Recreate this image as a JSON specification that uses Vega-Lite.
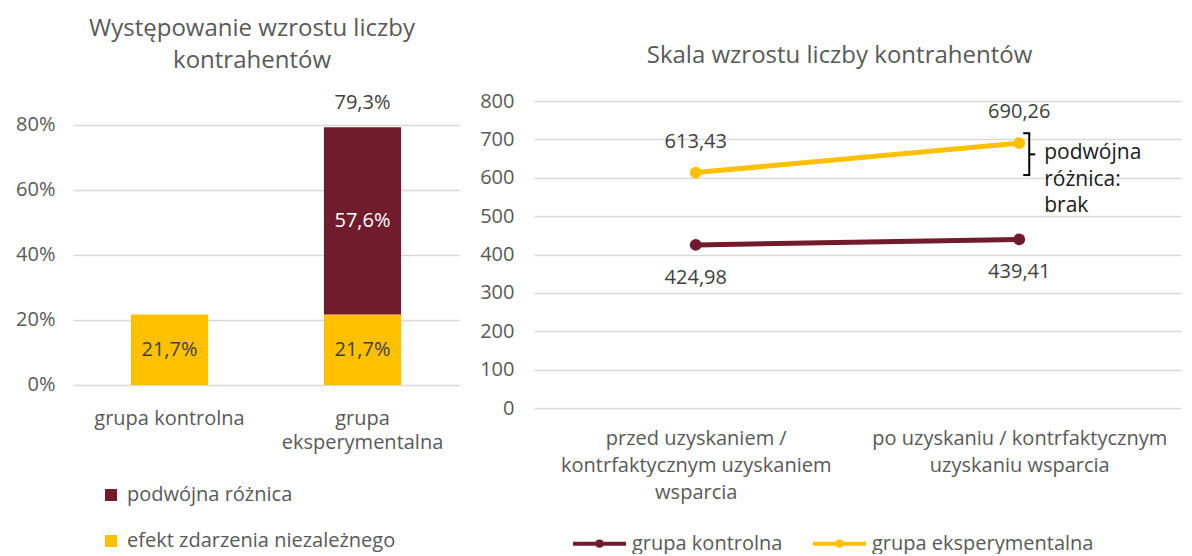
{
  "$schema": "https://vega.github.io/schema/vega-lite/v6.json",
  "padding": {"left": 15, "top": 17, "right": 5, "bottom": 0},
  "background": "white",
  "config": {
    "locale": {"number": {"decimal": ",", "thousands": " ", "grouping": [3], "currency": ["", " zł"]}},
    "view": {"stroke": null},
    "font": "Open Sans",
    "axis": {"domain": false, "ticks": false, "gridColor": "#d9d9d9", "gridWidth": 1.5, "labelFont": "Open Sans", "labelFontSize": 20, "labelColor": "#595959", "labelLimit": 0, "labelOverlap": false, "labelFlush": false},
    "axisX": {"grid": false},
    "axisY": {"grid": true},
    "title": {"font": "Open Sans", "fontSize": 24, "fontWeight": "normal", "color": "#595959"},
    "legend": {"labelFont": "Open Sans", "labelFontSize": 20, "labelColor": "#595959", "labelLimit": 0}
  },
  "datasets": {
    "bars": [
      {"group": "grupa kontrolna", "component": "efekt zdarzenia niezależnego", "value": 0.217},
      {"group": "grupa eksperymentalna", "component": "efekt zdarzenia niezależnego", "value": 0.217},
      {"group": "grupa eksperymentalna", "component": "podwójna różnica", "value": 0.576}
    ],
    "lines": [
      {"stage": "przed uzyskaniem / kontrfaktycznym uzyskaniem wsparcia", "group": "grupa kontrolna", "value": 424.98},
      {"stage": "po uzyskaniu / kontrfaktycznym uzyskaniu wsparcia", "group": "grupa kontrolna", "value": 439.41},
      {"stage": "przed uzyskaniem / kontrfaktycznym uzyskaniem wsparcia", "group": "grupa eksperymentalna", "value": 613.43},
      {"stage": "po uzyskaniu / kontrfaktycznym uzyskaniu wsparcia", "group": "grupa eksperymentalna", "value": 690.26}
    ]
  },
  "spacing": 20,
  "resolve": {"scale": {"color": "independent", "x": "independent", "y": "independent"}, "legend": {"color": "independent"}},
  "hconcat": [
    {
      "width": 386,
      "height": 307,
      "title": {"text": ["Występowanie wzrostu liczby", "kontrahentów"], "lineHeight": 32, "offset": 20, "dx": -14, "anchor": "middle"},
      "layer": [
        {
          "data": {"name": "bars"},
          "mark": {"type": "bar"},
          "encoding": {
            "x": {"field": "group", "type": "nominal", "sort": ["grupa kontrolna", "grupa eksperymentalna"],
                  "scale": {"paddingInner": 0.6, "paddingOuter": 0.3},
                  "axis": {"title": null, "labelAngle": 0, "labelPadding": 0, "labelBaseline": "top", "labelLineHeight": 24,
                           "labelExpr": "datum.value == 'grupa eksperymentalna' ? ['grupa', 'eksperymentalna'] : datum.value"}},
            "y": {"field": "value", "type": "quantitative", "stack": "zero",
                  "scale": {"domain": [-0.0708, 0.8738], "nice": false, "zero": false},
                  "axis": {"title": null, "values": [0, 0.2, 0.4, 0.6, 0.8], "format": ".0%", "labelPadding": 18}},
            "color": {"field": "component", "type": "nominal",
                      "scale": {"domain": ["podwójna różnica", "efekt zdarzenia niezależnego"], "range": ["#701c2c", "#ffc000"]},
                      "legend": {"title": null, "orient": "none", "legendX": 28, "legendY": 384, "direction": "vertical",
                                 "symbolType": "square", "symbolSize": 144, "symbolStrokeWidth": 0, "labelOffset": 6, "rowPadding": 26}},
            "order": {"field": "component", "sort": "ascending"}
          }
        },
        {
          "data": {"name": "bars"},
          "transform": [
            {"stack": "value", "groupby": ["group"], "sort": [{"field": "component", "order": "ascending"}], "as": ["v0", "v1"]},
            {"calculate": "(datum.v0 + datum.v1) / 2", "as": "mid"}
          ],
          "mark": {"type": "text", "fontSize": 20, "baseline": "middle"},
          "encoding": {
            "x": {"field": "group", "type": "nominal", "sort": ["grupa kontrolna", "grupa eksperymentalna"]},
            "y": {"field": "mid", "type": "quantitative"},
            "text": {"field": "value", "type": "quantitative", "format": ".1%"},
            "color": {"condition": {"test": "datum.component == 'podwójna różnica'", "value": "#ffffff"}, "value": "#404040"}
          }
        },
        {
          "data": {"name": "bars"},
          "transform": [
            {"aggregate": [{"op": "sum", "field": "value", "as": "total"}], "groupby": ["group"]},
            {"filter": "datum.group == 'grupa eksperymentalna'"}
          ],
          "mark": {"type": "text", "fontSize": 20, "baseline": "middle", "dy": -24, "color": "#404040"},
          "encoding": {
            "x": {"field": "group", "type": "nominal", "sort": ["grupa kontrolna", "grupa eksperymentalna"]},
            "y": {"field": "total", "type": "quantitative"},
            "text": {"field": "total", "type": "quantitative", "format": ".1%"}
          }
        }
      ]
    },
    {
      "width": 647,
      "height": 307,
      "title": {"text": "Skala wzrostu liczby kontrahentów", "offset": 23, "dx": -18, "anchor": "middle"},
      "layer": [
        {
          "data": {"name": "lines"},
          "mark": {"type": "line", "strokeWidth": 5},
          "encoding": {
            "x": {"field": "stage", "type": "nominal",
                  "sort": ["przed uzyskaniem / kontrfaktycznym uzyskaniem wsparcia", "po uzyskaniu / kontrfaktycznym uzyskaniu wsparcia"],
                  "scale": {"type": "point", "padding": 0.5},
                  "axis": {"title": null, "labelAngle": 0, "labelPadding": 20, "labelBaseline": "top", "labelLineHeight": 27,
                           "labelExpr": "datum.value == 'przed uzyskaniem / kontrfaktycznym uzyskaniem wsparcia' ? ['przed uzyskaniem /', 'kontrfaktycznym uzyskaniem', 'wsparcia'] : ['po uzyskaniu / kontrfaktycznym', 'uzyskaniu wsparcia']"}},
            "y": {"field": "value", "type": "quantitative",
                  "scale": {"domain": [0, 800], "nice": false},
                  "axis": {"title": null, "values": [0, 100, 200, 300, 400, 500, 600, 700, 800], "tickCount": 9, "labelPadding": 20}},
            "color": {"field": "group", "type": "nominal",
                      "scale": {"domain": ["grupa kontrolna", "grupa eksperymentalna"], "range": ["#701c2c", "#ffc000"]},
                      "legend": {"title": null, "orient": "none", "legendX": 37, "legendY": 414, "direction": "horizontal",
                                 "symbolType": "M-1,0H1M-0.08,0A0.08,0.08,0,1,0,0.08,0A0.08,0.08,0,1,0,-0.08,0",
                                 "symbolSize": 2809, "symbolStrokeWidth": 4, "labelOffset": 4, "columnPadding": 22}}
          }
        },
        {
          "data": {"name": "lines"},
          "mark": {"type": "point", "filled": true, "size": 140, "opacity": 1},
          "encoding": {
            "x": {"field": "stage", "type": "nominal", "sort": ["przed uzyskaniem / kontrfaktycznym uzyskaniem wsparcia", "po uzyskaniu / kontrfaktycznym uzyskaniu wsparcia"]},
            "y": {"field": "value", "type": "quantitative", "axis": {"title": null, "values": [0, 100, 200, 300, 400, 500, 600, 700, 800], "tickCount": 9, "labelPadding": 20}},
            "color": {"field": "group", "type": "nominal"}
          }
        },
        {
          "data": {"name": "lines"},
          "transform": [{"filter": "datum.group == 'grupa eksperymentalna'"}],
          "mark": {"type": "text", "fontSize": 20, "baseline": "middle", "dy": -31, "color": "#404040"},
          "encoding": {
            "x": {"field": "stage", "type": "nominal", "sort": ["przed uzyskaniem / kontrfaktycznym uzyskaniem wsparcia", "po uzyskaniu / kontrfaktycznym uzyskaniu wsparcia"]},
            "y": {"field": "value", "type": "quantitative", "axis": {"title": null, "values": [0, 100, 200, 300, 400, 500, 600, 700, 800], "tickCount": 9, "labelPadding": 20}},
            "text": {"field": "value", "type": "quantitative", "format": ".2f"}
          }
        },
        {
          "data": {"name": "lines"},
          "transform": [{"filter": "datum.group == 'grupa kontrolna'"}],
          "mark": {"type": "text", "fontSize": 20, "baseline": "middle", "dy": 33, "color": "#404040"},
          "encoding": {
            "x": {"field": "stage", "type": "nominal", "sort": ["przed uzyskaniem / kontrfaktycznym uzyskaniem wsparcia", "po uzyskaniu / kontrfaktycznym uzyskaniu wsparcia"]},
            "y": {"field": "value", "type": "quantitative", "axis": {"title": null, "values": [0, 100, 200, 300, 400, 500, 600, 700, 800], "tickCount": 9, "labelPadding": 20}},
            "text": {"field": "value", "type": "quantitative", "format": ".2f"}
          }
        },
        {
          "data": {"values": [{}]},
          "mark": {"type": "rule", "xOffset": 10, "strokeWidth": 2, "color": "#000000"},
          "encoding": {
            "x": {"datum": "po uzyskaniu / kontrfaktycznym uzyskaniu wsparcia", "type": "nominal"},
            "y": {"datum": 716, "type": "quantitative", "axis": {"title": null, "values": [0, 100, 200, 300, 400, 500, 600, 700, 800], "tickCount": 9, "labelPadding": 20}},
            "y2": {"datum": 607}
          }
        },
        {
          "data": {"values": [{}]},
          "mark": {"type": "rule", "xOffset": 4, "x2Offset": 11, "strokeWidth": 2, "color": "#000000"},
          "encoding": {
            "x": {"datum": "po uzyskaniu / kontrfaktycznym uzyskaniu wsparcia", "type": "nominal"},
            "x2": {"datum": "po uzyskaniu / kontrfaktycznym uzyskaniu wsparcia"},
            "y": {"datum": 716, "type": "quantitative", "axis": {"title": null, "values": [0, 100, 200, 300, 400, 500, 600, 700, 800], "tickCount": 9, "labelPadding": 20}}
          }
        },
        {
          "data": {"values": [{}]},
          "mark": {"type": "rule", "xOffset": 4, "x2Offset": 11, "strokeWidth": 2, "color": "#000000"},
          "encoding": {
            "x": {"datum": "po uzyskaniu / kontrfaktycznym uzyskaniu wsparcia", "type": "nominal"},
            "x2": {"datum": "po uzyskaniu / kontrfaktycznym uzyskaniu wsparcia"},
            "y": {"datum": 607, "type": "quantitative", "axis": {"title": null, "values": [0, 100, 200, 300, 400, 500, 600, 700, 800], "tickCount": 9, "labelPadding": 20}}
          }
        },
        {
          "data": {"values": [{}]},
          "mark": {"type": "rule", "xOffset": 10, "x2Offset": 16, "strokeWidth": 2, "color": "#000000"},
          "encoding": {
            "x": {"datum": "po uzyskaniu / kontrfaktycznym uzyskaniu wsparcia", "type": "nominal"},
            "x2": {"datum": "po uzyskaniu / kontrfaktycznym uzyskaniu wsparcia"},
            "y": {"datum": 661, "type": "quantitative", "axis": {"title": null, "values": [0, 100, 200, 300, 400, 500, 600, 700, 800], "tickCount": 9, "labelPadding": 20}}
          }
        },
        {
          "data": {"values": [{}]},
          "mark": {"type": "text", "text": ["podwójna", "różnica:", "brak"], "align": "left", "baseline": "middle", "dx": 25, "fontSize": 21, "lineHeight": 26.5, "color": "#1a1a1a"},
          "encoding": {
            "x": {"datum": "po uzyskaniu / kontrfaktycznym uzyskaniu wsparcia", "type": "nominal"},
            "y": {"datum": 664, "type": "quantitative", "axis": {"title": null, "values": [0, 100, 200, 300, 400, 500, 600, 700, 800], "tickCount": 9, "labelPadding": 20}}
          }
        }
      ]
    }
  ]
}
